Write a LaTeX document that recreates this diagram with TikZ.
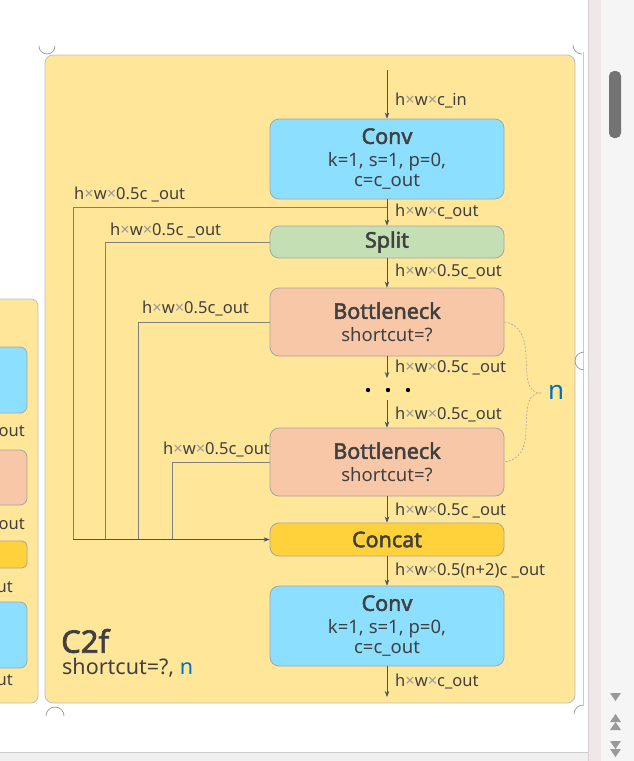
\documentclass[tikz,border=0pt]{standalone}
\usepackage{fontspec}
\setmainfont{Noto Sans}[AutoFakeBold=2.2]
\usetikzlibrary{arrows.meta,calc}
\definecolor{panel}{HTML}{FFE699}
\definecolor{panelline}{HTML}{BFBFBF}
\definecolor{convc}{HTML}{8CDFFF}
\definecolor{splitc}{HTML}{C5DFB4}
\definecolor{bneckc}{HTML}{F7C7A7}
\definecolor{concatc}{HTML}{FFD23C}
\definecolor{boxline}{HTML}{A6A6A6}
\definecolor{textc}{HTML}{404040}
\definecolor{arrowc}{HTML}{44546A}
\definecolor{linec}{HTML}{7F7F7F}
\definecolor{nblue}{HTML}{0070C0}
\newcommand\tm{{\color{gray!80}×}}
\newcommand\ttlfont{\fontsize{21.5}{24}\selectfont\bfseries}
\begin{document}
\begin{tikzpicture}[x=1pt,y=-1pt,
  box/.style={draw=boxline, line width=0.8pt, rounded corners=9pt, minimum width=234pt, inner sep=0pt, align=center, text=textc, font=\fontsize{18.5}{20.5}\selectfont},
  ttl/.style={font=\ttlfont},
  lbl/.style={anchor=west, inner sep=0pt, text=textc, font=\fontsize{16.5}{18}\selectfont},
  flow/.style={draw=arrowc, line width=0.7pt, -{Stealth[length=6pt,width=4.5pt]}},
  side/.style={draw=linec, line width=0.9pt},
  handle/.style={draw=gray!80, line width=0.7pt}]
\useasboundingbox (0,0) rectangle (634,761);
\fill[white] (0,0) rectangle (634,761);
% left partial panel
\filldraw[fill=panel, draw=panelline, line width=0.8pt, rounded corners=7pt] (-20,299) rectangle (38,703);
\filldraw[fill=convc, draw=boxline, line width=0.8pt, rounded corners=7pt] (-20,347) rectangle (27,413);
\filldraw[fill=bneckc, draw=boxline, line width=0.8pt, rounded corners=7pt] (-20,450) rectangle (27,505);
\filldraw[fill=concatc, draw=boxline, line width=0.8pt, rounded corners=5pt] (-20,541) rectangle (27,568);
\filldraw[fill=convc, draw=boxline, line width=0.8pt, rounded corners=7pt] (-20,602) rectangle (27,668);
\node[lbl, anchor=east] (lo1) at (25,432) {\_out};
\node[lbl, anchor=east] (lo2) at (25,525) {\_out};
\node[lbl, anchor=east] (lo3) at (13,587) {ut};
\node[lbl, anchor=east] (lo4) at (13,680) {ut};
% main panel
\filldraw[fill=panel, draw=panelline, line width=0.8pt, rounded corners=8pt] (45,55) rectangle (575,703);
\draw[gray!40, line width=0.6pt] (583,52) -- (583,706);
% handles
\draw[handle] (39,46) arc[start angle=180, end angle=0, radius=8];
\draw[handle] (573,45) arc[start angle=180, end angle=90, radius=9];
\draw[handle] (584,370) arc[start angle=90, end angle=270, radius=9];
\draw[handle] (46,716) arc[start angle=180, end angle=360, radius=9];
\draw[handle] (574,714) arc[start angle=180, end angle=270, radius=9];
% scrollbar and window edges
\fill[black!4] (588,0) rectangle (634,761);
\fill[red!20!gray!15] (588,0) rectangle (601,761);
\draw[gray!35, line width=0.6pt] (588,0) -- (588,761);
\fill[black!6] (0,752) rectangle (588,761);
\draw[gray!40, line width=0.6pt] (0,752) -- (588,752);
\fill[gray!90!black, rounded corners=5pt] (609,71) rectangle (621,138);
\fill[gray!80] (610,693) -- (621,693) -- (615.5,701) -- cycle;
\fill[gray!80] (610,722) -- (621,722) -- (615.5,714) -- cycle;
\fill[gray!80] (610,730) -- (621,730) -- (615.5,722) -- cycle;
\fill[gray!80] (610,741) -- (621,741) -- (615.5,749) -- cycle;
\fill[gray!80] (610,749) -- (621,749) -- (615.5,757) -- cycle;
% boxes
\node[box, fill=convc, minimum height=80pt] (conv1) at (387,159)
  {{\ttlfont Conv}\\[2pt] k=1, s=1, p=0,\\ c=c\_out};
\node[box, fill=splitc, minimum height=32pt, ttl] (split) at (387,242) {Split};
\node[box, fill=bneckc, minimum height=68pt] (b1) at (387,322)
  {{\ttlfont Bottleneck}\\[2pt] shortcut=?};
\node[box, fill=bneckc, minimum height=68pt] (b2) at (387,462)
  {{\ttlfont Bottleneck}\\[2pt] shortcut=?};
\node[box, fill=concatc, minimum height=33pt, ttl] (concat) at (387,539.5) {Concat};
\node[box, fill=convc, minimum height=80pt] (conv2) at (387,626)
  {{\ttlfont Conv}\\[2pt] k=1, s=1, p=0,\\ c=c\_out};
% dots
\foreach \dx in {368,388,408} \fill[black] (\dx,390) circle[radius=2.2];
\coordinate (dtop) at (387,378);
\coordinate (dbot) at (387,400);
\coordinate (in) at (387,70);
\coordinate (out) at (387,697);
\coordinate (br) at (387,207);
\coordinate (j1) at (73,539.5);
\coordinate (j2) at (105,539.5);
\coordinate (j3) at (138,539.5);
\coordinate (j4) at (172,539.5);
% side connections
\draw[side] (br) -| (j1);
\draw[side] (split.west) -| (j2);
\draw[side] (b1.west) -| (j3);
\draw[side] (b2.west) -| (j4);
\draw[flow] (j1) -- (concat.west);
% main flow
\draw[flow] (in) -- (conv1.north);
\draw[flow] (conv1.south) -- (split.north);
\draw[flow] (split.south) -- (b1.north);
\draw[flow] (b1.south) -- (dtop);
\draw[flow] (dbot) -- (b2.north);
\draw[flow] (b2.south) -- (concat.north);
\draw[flow] (concat.south) -- (conv2.north);
\draw[flow] (conv2.south) -- (out);
% labels
\node[lbl] (l0) at (395,100) {h\tm w\tm c\_in};
\node[lbl] (l1) at (395,211) {h\tm w\tm c\_out};
\node[lbl] (l2) at (395,271) {h\tm w\tm 0.5c\_out};
\node[lbl] (l3) at (395,367) {h\tm w\tm 0.5c \_out};
\node[lbl] (l4) at (395,414) {h\tm w\tm 0.5c\_out};
\node[lbl] (l5) at (395,510) {h\tm w\tm 0.5c \_out};
\node[lbl] (l6) at (395,571) {h\tm w\tm 0.5(n+2)c \_out};
\node[lbl] (l7) at (395,681) {h\tm w\tm c\_out};
\node[lbl] (s1) at (74,194) {h\tm w\tm 0.5c \_out};
\node[lbl] (s2) at (110,230) {h\tm w\tm 0.5c \_out};
\node[lbl] (s3) at (142,308) {h\tm w\tm 0.5c\_out};
\node[lbl] (s4) at (163,449) {h\tm w\tm 0.5c\_out};
% brace
\draw[gray!70, dash pattern=on 2pt off 1.5pt, line width=0.6pt]
  (b1.east) .. controls (520,324) and (526,338) .. (526,358)
  -- (527,375) .. controls (528,388) and (533,393) .. (542,393)
  .. controls (533,393) and (528,398) .. (527,411)
  -- (526,428) .. controls (526,448) and (520,460) .. (b2.east);
\node[anchor=west, inner sep=0pt, text=nblue, font=\fontsize{26}{28}\selectfont] (nlab) at (548,392) {n};
% title
\node[anchor=west, inner sep=0pt, text=textc, font=\fontsize{31}{34}\selectfont\bfseries] (title) at (61,641) {C2f};
\node[anchor=west, inner sep=0pt, text=textc, font=\fontsize{21.5}{24}\selectfont] (sub) at (62,668) {shortcut=?, {\color{nblue}n}};
\end{tikzpicture}
\end{document}
